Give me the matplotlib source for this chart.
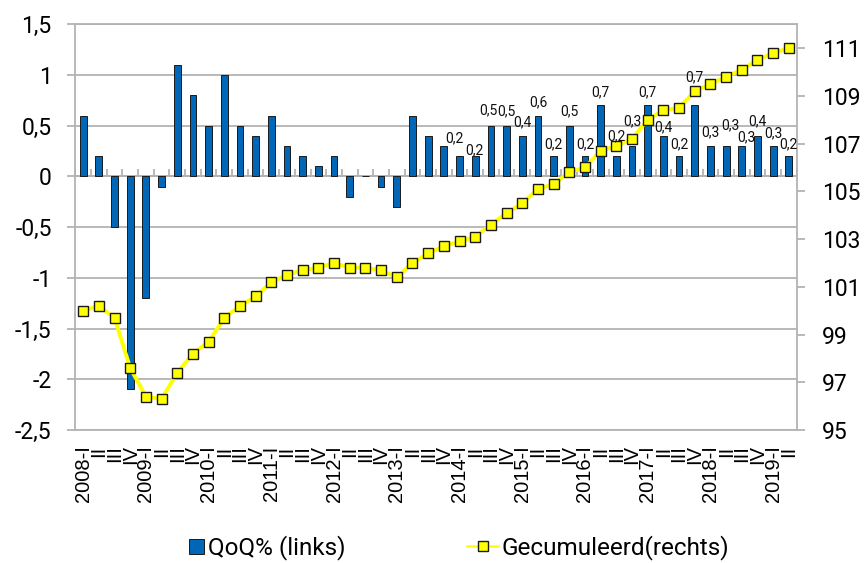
import numpy as np
import matplotlib
matplotlib.use("Agg")
import matplotlib.pyplot as plt
from matplotlib.patches import Patch, Rectangle
from matplotlib.lines import Line2D
from matplotlib.legend_handler import HandlerPatch

# ---------------- data ----------------
years = ["2008", "2009", "2010", "2011", "2012", "2013",
         "2014", "2015", "2016", "2017", "2018", "2019"]
quarters = ["I", "II", "III", "IV"]

qoq = [0.6, 0.2, -0.5, -2.1,
       -1.2, -0.1, 1.1, 0.8,
       0.5, 1.0, 0.5, 0.4,
       0.6, 0.3, 0.2, 0.1,
       0.2, -0.2, 0.0, -0.1,
       -0.3, 0.6, 0.4, 0.3,
       0.2, 0.2, 0.5, 0.5,
       0.4, 0.6, 0.2, 0.5,
       0.2, 0.7, 0.2, 0.3,
       0.7, 0.4, 0.2, 0.7,
       0.3, 0.3, 0.3, 0.4,
       0.3, 0.2]

cumulative = [100.0, 100.2, 99.7, 97.6,
              96.4, 96.3, 97.4, 98.2,
              98.7, 99.7, 100.2, 100.6,
              101.2, 101.5, 101.7, 101.8,
              102.0, 101.8, 101.8, 101.7,
              101.4, 102.0, 102.4, 102.7,
              102.9, 103.1, 103.6, 104.1,
              104.5, 105.1, 105.3, 105.8,
              106.0, 106.7, 106.9, 107.2,
              108.0, 108.4, 108.5, 109.2,
              109.5, 109.8, 110.1, 110.5,
              110.8, 111.0]

left_ticks = [-2.5, -2.0, -1.5, -1.0, -0.5, 0.0, 0.5, 1.0, 1.5]
right_ticks = [95, 97, 99, 101, 103, 105, 107, 109, 111]

series_names = ["QoQ% (links)", "Gecumuleerd(rechts)"]

# category labels: "2008-I", "II", "III", "IV", "2009-I", ...
cat_labels = []
for y in years:
    for qi, q in enumerate(quarters):
        cat_labels.append(f"{y}-{q}" if qi == 0 else q)
cat_labels = cat_labels[:len(qoq)]

# data labels shown from this category on
label_start = 24
# label offsets in pixels (style only)
label_dx = [-5, -1, -3, 0, 0, 0, 0, 0, 0, 0, 0, 0,
            0, 0, 0, 0, 0, 4, 5, 0, 0, 0]
label_dy = [18, 6, 15, 14, 14, 13, 12, 14, 12, 13, 20, 25,
            13, 9, 12, 28, 14, 21, 9, 15, 13, 12]

# ---------------- style ----------------
BAR = "#0066B8"
GRID = "#b3b3b3"
YEL = "#FFFF00"
EDGE = "#1a1a1a"

plt.rcParams["font.family"] = ["Roboto", "DejaVu Sans"]

fig = plt.figure(figsize=(8.64, 5.63), dpi=100)
W, H = 864, 563
x0, x1, ytop, ybot = 75.3, 796.7, 24.3, 430.0
ax = fig.add_axes([x0 / W, 1 - ybot / H, (x1 - x0) / W, (ybot - ytop) / H])

x = np.arange(len(qoq))
ax.bar(x, qoq, width=0.43, color=BAR, edgecolor=EDGE, linewidth=0.7, zorder=3)
ax.set_xlim(-0.5, len(qoq) - 0.5)
ax.set_ylim(left_ticks[0], left_ticks[-1])

ax.set_yticks(left_ticks)
ax.set_yticklabels([f"{v:g}".replace(".", ",") for v in left_ticks])
ax.yaxis.grid(True, color=GRID, linewidth=1.3, zorder=0)
ax.set_axisbelow(True)
ax.tick_params(axis="y", length=6, width=1.3, color=GRID, labelsize=16.5, pad=11)

ax.set_xticks(x)
ax.set_xticklabels(cat_labels, rotation=90, fontfamily="Liberation Sans", fontsize=14.5)
ax.tick_params(axis="x", length=0, pad=11)

for s in ["left", "bottom", "top"]:
    ax.spines[s].set_color(GRID)
    ax.spines[s].set_linewidth(1.3)
ax.spines["right"].set_visible(False)

# category axis crossing at 0 with small boundary ticks
zero_pos = (0 - left_ticks[0]) / (left_ticks[-1] - left_ticks[0])
sec = ax.secondary_xaxis(zero_pos)
sec.set_xticks(np.arange(len(qoq) + 1) - 0.5)
sec.tick_params(axis="x", direction="out", length=5, width=1.3, color=GRID,
                labeltop=False, labelbottom=False)
for s in sec.spines.values():
    s.set_color(GRID)
    s.set_linewidth(1.3)

# cumulative on right axis
ax2 = ax.twinx()
ax2.plot(x, cumulative, color=YEL, linewidth=2.8, marker="s", markersize=7.5,
         markerfacecolor=YEL, markeredgecolor=EDGE, markeredgewidth=1.0, zorder=4)
ax2.set_ylim(95, 112)
ax2.set_yticks(right_ticks)
ax2.set_yticklabels([str(v) for v in right_ticks])
ax2.tick_params(axis="y", length=6, width=1.3, color=GRID, labelsize=16.5, pad=12)
for s in ["left", "bottom", "top"]:
    ax2.spines[s].set_visible(False)
ax2.spines["right"].set_color(GRID)
ax2.spines["right"].set_linewidth(1.3)

# data labels (drawn on top of the line)
for k, i in enumerate(range(label_start, len(qoq))):
    v = qoq[i]
    ax2.annotate(f"{v:.1f}".replace(".", ","), xy=(i, v), xycoords=ax.transData,
                 xytext=(label_dx[k], label_dy[k]), textcoords="offset pixels",
                 ha="center", va="center", fontsize=10, color="#111111", zorder=6)


# legend: square patch for the bars
def square_patch(legend, orig_handle, xdescent, ydescent, width, height, fontsize):
    side = height * 0.9
    return Rectangle((-xdescent + width - side, -ydescent + (height - side) / 2),
                     side, side)


handles = [
    Patch(facecolor=BAR, edgecolor=EDGE, linewidth=0.7),
    Line2D([0], [0], color=YEL, linewidth=1.8, marker="s", markersize=7,
           markerfacecolor=YEL, markeredgecolor=EDGE, markeredgewidth=1.0),
]
fig.legend(handles, series_names, loc="center", bbox_to_anchor=(0.522, 0.027),
           ncol=2, frameon=False, prop={"family": "Roboto", "size": 17.5},
           handlelength=1.3, handletextpad=0.15, columnspacing=5.0,
           handler_map={Patch: HandlerPatch(patch_func=square_patch)})

fig.savefig("out.png", dpi=100)
